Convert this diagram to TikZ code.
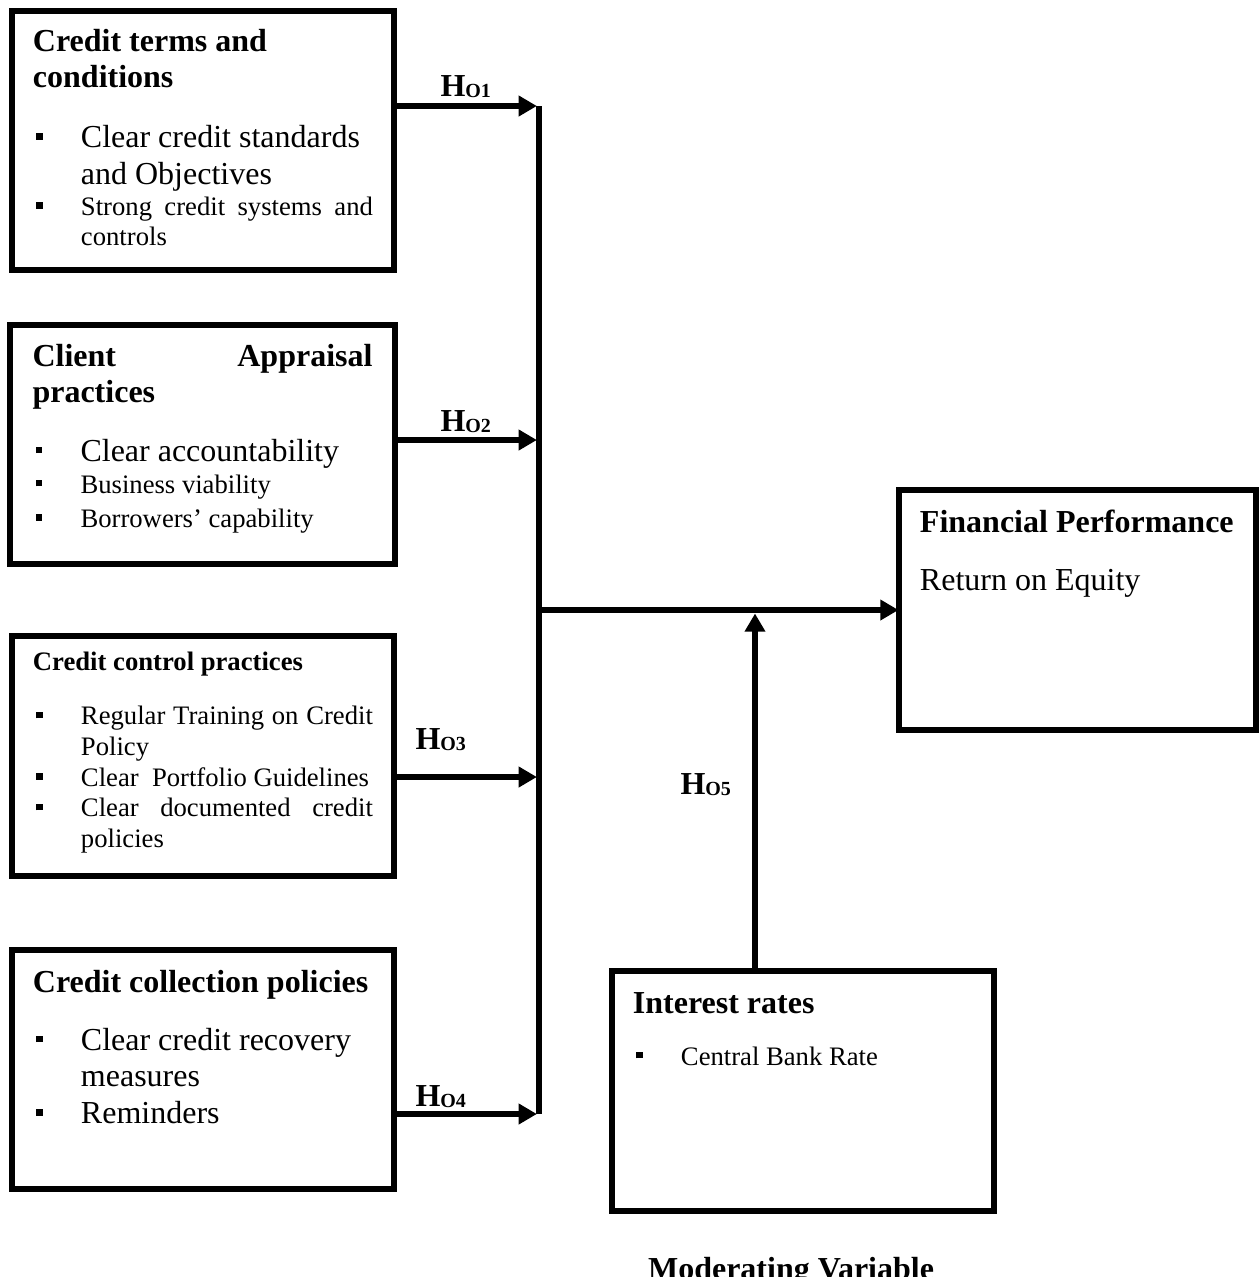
\documentclass[tikz,border=0pt]{standalone}
\usepackage{fontspec}
\setmainfont{Liberation Serif}
\usetikzlibrary{arrows.meta}

\newcommand{\bigsz}{\fontsize{12}{13.8}\selectfont}
\newcommand{\smallsz}{\fontsize{10}{11.5}\selectfont}
\newcommand{\sqbullet}{\makebox[18pt][l]{\hspace{1.2pt}\raisebox{0.25em}{\rule{2.4pt}{2.4pt}}}}
\newcommand{\itemj}[2]{\par{#1\hangindent=18pt\hangafter=1\noindent\sqbullet#2\par}}
\newcommand{\itemr}[2]{\par{#1\hangindent=18pt\hangafter=1\rightskip=0pt plus 1fil\noindent\sqbullet#2\par}}
\newcommand{\boxtext}[3]{\begin{minipage}[c][#1][t]{#2}\tolerance=9999 #3\end{minipage}}
\newcommand{\hyp}[1]{\textbf{\bigsz H\raisebox{-0.5pt}{\fontsize{7.5}{8}\selectfont #1}}}

\begin{document}
\begin{tikzpicture}[x=0.375pt, y=-0.375pt,
  varbox/.style={draw, line width=2.25pt, inner sep=0pt, outer sep=0pt, anchor=north west},
  flow/.style={line width=2.4pt, -{Triangle[length=6.8pt,width=7.4pt]}},
  bus/.style={line width=2.4pt},
  hlab/.style={anchor=base west, inner sep=0pt}]
\useasboundingbox (0,0) rectangle (1259,1277);

\node[varbox, minimum width=143.6pt, minimum height=97pt] (terms) at (11.5,11.3) {\boxtext{97pt}{127.5pt}{%
  {\bigsz\bfseries\rule{0pt}{14.9pt}Credit terms and\\ conditions\par}
  \vspace{8.7pt}
  \itemr{\bigsz}{Clear credit standards and Objectives}
  \itemj{\smallsz}{Strong credit systems and controls}}};
\node[varbox, minimum width=144.4pt, minimum height=89.8pt] (appraisal) at (10,324.5) {\boxtext{89.8pt}{127.5pt}{%
  {\bigsz\bfseries\rule{0pt}{15.6pt}Client\hfill Appraisal\\ practices\par}
  \vspace{8pt}
  \itemr{\bigsz}{Clear accountability}
  \vspace{0.5pt}
  \itemr{\smallsz}{Business viability}
  \vspace{1.3pt}
  \itemr{\smallsz}{Borrowers’ capability}}};
\node[varbox, minimum width=143.6pt, minimum height=90pt] (control) at (11.5,636) {\boxtext{90pt}{127.5pt}{%
  {\smallsz\bfseries\rule{0pt}{13.1pt}Credit control practices\par}
  \vspace{8.75pt}
  \itemj{\smallsz}{Regular Training on Credit Policy}
  \itemj{\smallsz}{Clear\ \ Portfolio Guidelines}
  \itemj{\smallsz}{Clear documented credit policies}}};
\node[varbox, minimum width=143.6pt, minimum height=89.6pt] (collection) at (11.5,950) {\boxtext{89.6pt}{127.5pt}{%
  {\bigsz\bfseries\rule{0pt}{15.75pt}\mbox{Credit collection policies}\par}
  \vspace{8pt}
  \itemr{\bigsz}{Clear credit recovery measures}
  \itemr{\bigsz}{Reminders}}};
\node[varbox, minimum width=134.1pt, minimum height=90pt] (fp) at (898.5,490) {\boxtext{90pt}{118pt}{%
  {\bigsz\bfseries\rule{0pt}{16.1pt}\mbox{Financial Performance}\par}
  \vspace{7.6pt}
  {\bigsz Return on Equity\par}}};
\node[varbox, minimum width=143.4pt, minimum height=90pt] (rates) at (611.5,971) {\boxtext{90pt}{127.3pt}{%
  {\bigsz\bfseries\rule{0pt}{15.75pt}Interest rates\par}
  \vspace{8pt}
  \itemr{\smallsz}{Central Bank Rate}}};

\coordinate (j1) at (539,106);
\coordinate (j2) at (539,440);
\coordinate (j3) at (539,777);
\coordinate (j4) at (539,1114);
\coordinate (jm) at (539,610);
\coordinate (jv) at (755,613.5);
\draw[bus] (j1) -- (j4);
\draw[flow] (terms.east |- j1) -- ([xshift=-0.8pt]j1);
\draw[flow] (appraisal.east |- j2) -- ([xshift=-0.8pt]j2);
\draw[flow] (control.east |- j3) -- ([xshift=-0.8pt]j3);
\draw[flow] (collection.east |- j4) -- ([xshift=-0.8pt]j4);
\draw[flow] (jm) -- (fp.west);
\draw[flow] (rates.north -| jv) -- (jv);

\node[hlab] (h1) at (440,96) {\hyp{O1}};
\node[hlab] (h2) at (440,431) {\hyp{O2}};
\node[hlab] (h3) at (415,749) {\hyp{O3}};
\node[hlab] (h4) at (415,1106) {\hyp{O4}};
\node[hlab] (h5) at (680,794) {\hyp{O5}};
\node[anchor=base, inner sep=0pt] (mv) at (791,1279) {\bigsz\bfseries Moderating Variable};
\end{tikzpicture}
\end{document}
